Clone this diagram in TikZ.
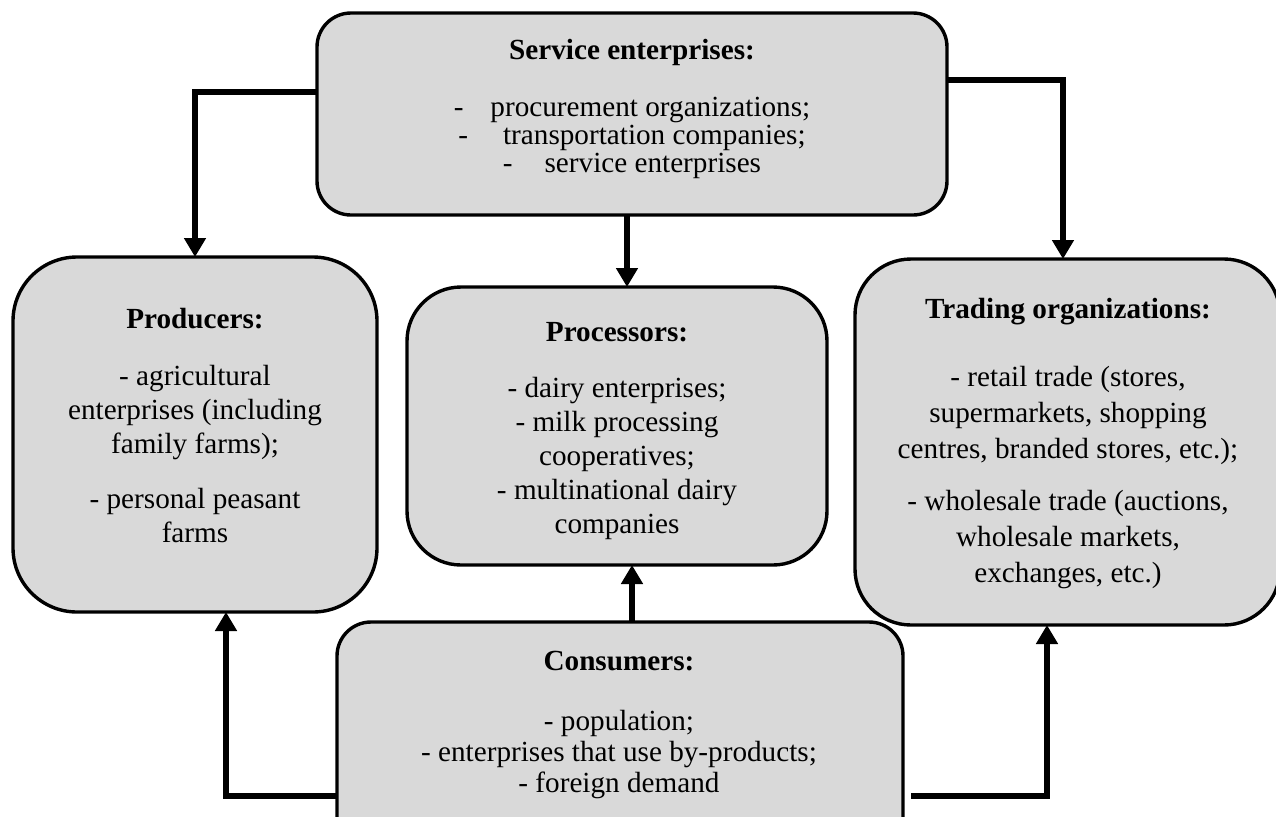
\documentclass[tikz,border=0pt]{standalone}
\usepackage{fontspec}
\setmainfont{Liberation Serif}
\usetikzlibrary{arrows.meta}
\definecolor{boxgray}{HTML}{D9D9D9}
\begin{document}
\begin{tikzpicture}[x=0.5pt,y=-0.5pt,
  box/.style={draw=black, line width=1.7pt, fill=boxgray, rectangle, inner sep=0pt, outer sep=0pt},
  flow/.style={line width=3pt, -{Triangle[width=10.5pt,length=9.5pt]}},
  txt/.style={align=center, inner sep=0pt, anchor=base, font=\fontsize{14.6}{17}\selectfont},
]
\useasboundingbox (0,0) rectangle (1276,816);
\clip (0,0) rectangle (1276,816);

% boxes
\node[box, minimum width=315pt, minimum height=101pt, rounded corners=17pt] (serv) at (632,114) {};
\node[box, minimum width=182pt, minimum height=177.5pt, rounded corners=32pt] (prod) at (195,434.5) {};
\node[box, minimum width=210pt, minimum height=139pt, rounded corners=27pt] (proc) at (617,426) {};
\node[box, minimum width=212.5pt, minimum height=183pt, rounded corners=28pt] (trade) at (1067.5,442) {};
\node[box, minimum width=283pt, minimum height=119pt, rounded corners=17pt] (cons) at (620,741) {};

% box texts (each placed by the baseline of its last line)
\node[txt, font=\fontsize{14.6}{14}\selectfont] (serv-t) at (632,172)
  {\textbf{Service enterprises:}\\[14.5pt]
   -\hspace{13.5pt}procurement organizations;\\
   -\hspace{17.5pt}transportation companies;\\
   -\hspace{16pt}service enterprises};
\node[txt] (prod-t) at (195,542)
  {\textbf{Producers:}\\[11.5pt]
   - agricultural\\ enterprises (including\\ family farms);\\[10.5pt]
   - personal peasant\\ farms};
\node[txt] (proc-t) at (617,533)
  {\textbf{Processors:}\\[11pt]
   - dairy enterprises;\\ - milk processing\\ cooperatives;\\
   - multinational dairy\\ companies};
\node[txt, font=\fontsize{14.6}{18}\selectfont] (trade-t) at (1068,582)
  {\textbf{Trading organizations:}\\[16pt]
   - retail trade (stores,\\ supermarkets, shopping\\ centres, branded stores, etc.);\\[8pt]
   - wholesale trade (auctions,\\ wholesale markets,\\ exchanges, etc.)};
\node[txt, font=\fontsize{14.6}{15.5}\selectfont] (cons-t) at (619,792)
  {\textbf{Consumers:}\\[14.5pt]
   - population;\\ - enterprises that use by-products;\\ - foreign demand};

% flows
\draw[flow] (serv.west |- 0,92) -| (prod.north);
\draw[flow] (serv.east |- 0,80) -| (1063,0 |- trade.north);
\draw[flow] (627,0 |- serv.south) -- (627,0 |- proc.north);
\draw[flow] (632,0 |- cons.north) -- (632,0 |- proc.south);
\draw[flow] (cons.west |- 0,796) -| (226,0 |- prod.south);
\draw[flow] ([xshift=4pt]cons.east |- 0,796) -| (1047,0 |- trade.south);
\end{tikzpicture}
\end{document}
